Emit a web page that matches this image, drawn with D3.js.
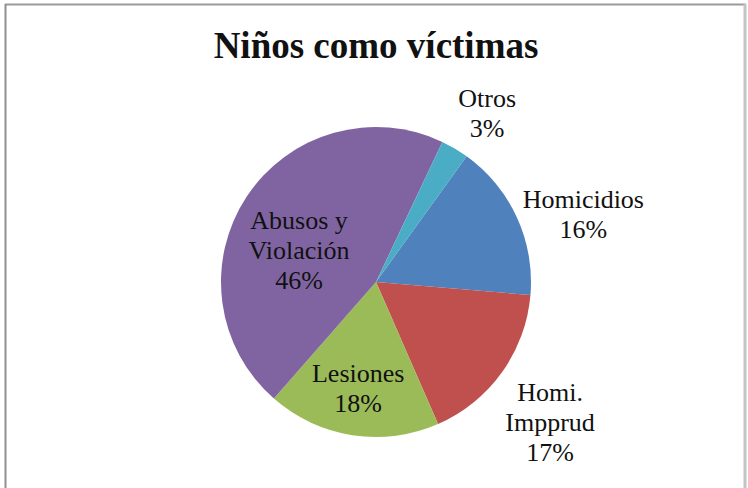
<!DOCTYPE html>
<html>
<head>
<meta charset="utf-8">
<script src="https://cdn.jsdelivr.net/npm/d3@7"></script>
<style>
  body { margin: 0; background: #fff; }
  svg { display: block; }
</style>
</head>
<body>
<div id="chart"></div>
<script>
// data (percent of cases)
var categories = ["Homicidios", "Homi. Impprud", "Lesiones", "Abusos y Violación", "Otros"];
var values = [16.4, 17.1, 18.0, 45.6, 2.9];
var labelLines = [["Homicidios"], ["Homi.", "Impprud"], ["Lesiones"], ["Abusos y", "Violación"], ["Otros"]];
var colors = ["#4f81bd", "#c0504d", "#9bbb59", "#8064a2", "#4bacc6"];

var width = 748, height = 488;
var cx = 376, cy = 282, radius = 155;

// where Excel put each label: [angle in degrees from 12 o'clock, distance from centre]
var labelLayout = [[72, 218], [129, 224], [189.5, 108], [292, 83], [33.4, 202]];

var svg = d3.select("#chart")
    .append("svg")
    .attr("width", width)
    .attr("height", height);

// chart frame
svg.append("line").attr("x1", 5).attr("x2", 746).attr("y1", 4.5).attr("y2", 4.5)
    .style("stroke", "#9a9a9a").style("stroke-width", 2);
svg.append("line").attr("x1", 5.5).attr("x2", 5.5).attr("y1", 4).attr("y2", height)
    .style("stroke", "#8f8f8f").style("stroke-width", 2);
svg.append("line").attr("x1", 745).attr("x2", 745).attr("y1", 4).attr("y2", height)
    .style("stroke", "#c4c4c4").style("stroke-width", 3);

// title
svg.append("text")
    .attr("x", 376)
    .attr("y", 58)
    .attr("text-anchor", "middle")
    .attr("font-family", "Liberation Serif")
    .attr("font-weight", "bold")
    .attr("font-size", 37)
    .attr("fill", "#111")
    .text("Niños como víctimas");

var data = categories.map(function (c, i) {
    return { name: c, value: values[i], lines: labelLines[i], color: colors[i], layout: labelLayout[i] };
});

var start = 35.8 * Math.PI / 180;
var pie = d3.pie()
    .sort(null)
    .value(function (d) { return d.value; })
    .startAngle(start)
    .endAngle(start + 2 * Math.PI);

var arc = d3.arc().innerRadius(0).outerRadius(radius);

var g = svg.append("g")
    .attr("transform", "translate(" + cx + "," + cy + ")");

var arcs = pie(data);

g.selectAll("path")
    .data(arcs)
    .enter()
    .append("path")
    .attr("d", arc)
    .style("fill", function (d) { return d.data.color; });

// labels: name lines + rounded percent
var lineH = 30;
var labels = g.selectAll(".label")
    .data(arcs)
    .enter()
    .append("text")
    .attr("class", "label")
    .attr("text-anchor", "middle")
    .attr("font-family", "Liberation Serif")
    .attr("font-size", 26)
    .attr("fill", "#111")
    .attr("transform", function (d) {
        var a = d.data.layout[0] * Math.PI / 180, r = d.data.layout[1];
        return "translate(" + (r * Math.sin(a)) + "," + (-r * Math.cos(a)) + ")";
    });

labels.each(function (d) {
    var t = d3.select(this);
    var lines = d.data.lines.concat([Math.round(d.data.value) + "%"]);
    // block centred vertically on the anchor point
    var top = -((lines.length - 1) * lineH + 17) / 2 + 17;
    lines.forEach(function (s, i) {
        t.append("tspan")
            .attr("x", 0)
            .attr("y", top + i * lineH)
            .text(s);
    });
});
</script>
</body>
</html>
